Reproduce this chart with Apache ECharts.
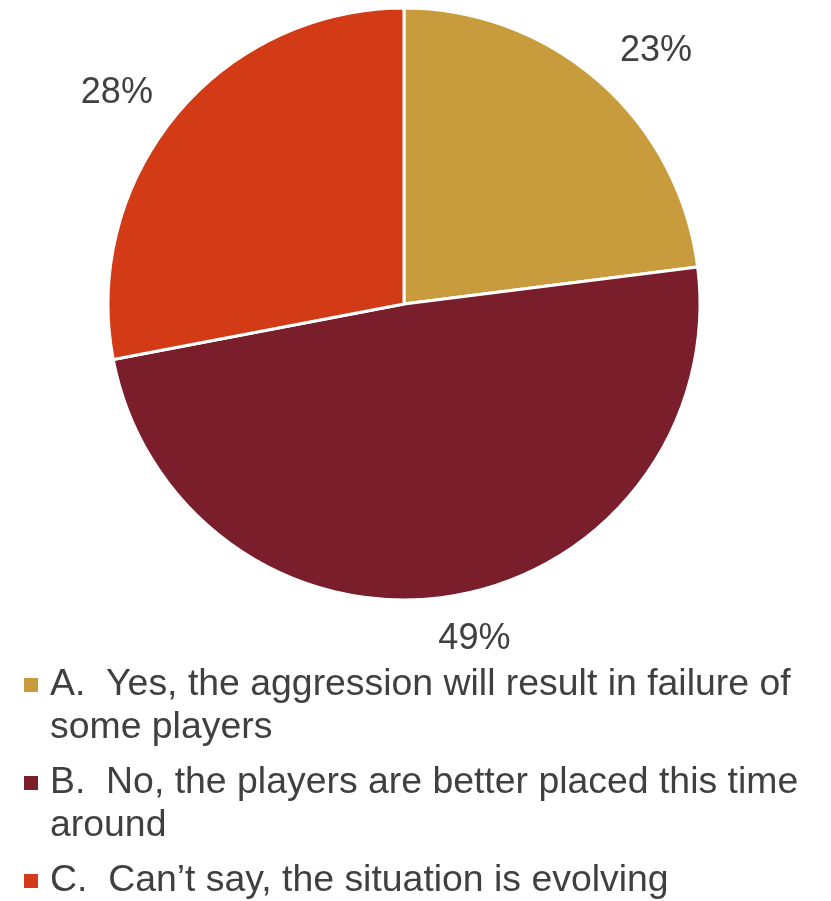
<!DOCTYPE html>
<html>
<head>
<meta charset="utf-8">
<style>
  html, body { margin: 0; padding: 0; background: #ffffff; }
  #chart { width: 831px; height: 901px; }
</style>
<script src="https://cdn.jsdelivr.net/npm/echarts@6/dist/echarts.min.js"></script>
</head>
<body>
<div id="chart"></div>
<script>
// Survey answers and their shares (percent)
const categories = [
  'A.  Yes, the aggression will result in failure of some players',
  'B.  No, the players are better placed this time around',
  'C.  Can\u2019t say, the situation is evolving'
];
const shares = [23, 49, 28];
const sliceColors = ['#C89B3C', '#7B1E2B', '#D33A16'];

const FONT = "'Liberation Sans', Arial, Helvetica, sans-serif";
const TEXT_COLOR = '#404040';

const chart = echarts.init(document.getElementById('chart'), null, { renderer: 'canvas' });

// Legend drawn as a stacked list under the pie: square swatch + wrapped text
const legendTop = 685;   // centre of the first text line of the first entry
const legendStep = 98;   // distance between entries
const legendLineHeight = 43;
const legendItems = categories.map(function (name, i) {
  const lineCenter = legendTop + i * legendStep;
  return {
    type: 'group',
    children: [
      {
        type: 'rect',
        shape: { x: 24, y: lineCenter - 7, width: 14, height: 14 },
        style: { fill: sliceColors[i] }
      },
      {
        type: 'text',
        x: 50,
        y: lineCenter - legendLineHeight / 2,
        style: {
          text: name,
          width: 775,
          overflow: 'break',
          lineHeight: legendLineHeight,
          font: '37.4px ' + FONT,
          fill: TEXT_COLOR,
          verticalAlign: 'top'
        }
      }
    ]
  };
});

// small nudges for the percentage labels, by slice
const labelNudge = [[-2, -11], [-21, 17], [2, -6]];

chart.setOption({
  backgroundColor: '#ffffff',
  animation: false,
  series: [{
    type: 'pie',
    center: [404, 304],
    radius: 296,
    startAngle: 90,
    clockwise: true,
    avoidLabelOverlap: false,
    silent: true,
    itemStyle: { borderColor: '#ffffff', borderWidth: 3 },
    label: {
      show: true,
      position: 'outside',
      formatter: function (p) { return p.value + '%'; },
      fontSize: 36,
      fontFamily: FONT,
      color: TEXT_COLOR
    },
    labelLine: { show: false, length: 26, length2: 0 },
    labelLayout: function (p) {
      const n = labelNudge[p.dataIndex];
      return { dx: n[0], dy: n[1] };
    },
    data: categories.map(function (name, i) {
      return { name: name, value: shares[i], itemStyle: { color: sliceColors[i] } };
    })
  }],
  graphic: legendItems
});
</script>
</body>
</html>
